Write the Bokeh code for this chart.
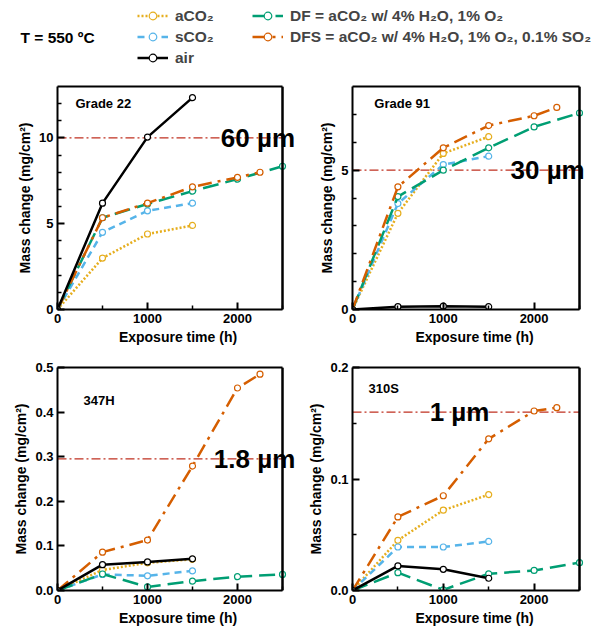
from bokeh.plotting import figure
from bokeh.models import (Range1d, FixedTicker, Label, Legend, LegendItem,
                          NumeralTickFormatter, LinearAxis)
from bokeh.core.properties import value
from bokeh.layouts import column, row
from bokeh.embed import file_html
from bokeh.resources import INLINE

# ---------------- data ----------------
hours_short = [0, 500, 1000, 1500]
hours_df = [0, 500, 1000, 1500, 2000, 2500]
hours_dfs = [0, 500, 1000, 1500, 2000, 2250]
x_span = [0, 2500]

# Grade 22
g22_aco2 = [0, 3.0, 4.4, 4.9]
g22_sco2 = [0, 4.5, 5.75, 6.2]
g22_air = [0, 6.2, 10.05, 12.35]
g22_df = [0, 5.35, 6.15, 6.9, 7.6, 8.35]
g22_dfs = [0, 5.35, 6.2, 7.15, 7.7, 8.0]

# Grade 91
g91_aco2 = [0, 3.45, 5.6, 6.2]
g91_sco2 = [0, 3.8, 5.2, 5.5]
g91_air = [0, 0.1, 0.12, 0.1]
g91_df = [0, 4.05, 5.0, 5.8, 6.55, 7.05]
g91_dfs = [0, 4.4, 5.8, 6.6, 6.95, 7.25]

# 347H
h347_aco2 = [0, 0.046, 0.062, 0.070]
h347_sco2 = [0, 0.036, 0.033, 0.044]
h347_air = [0, 0.058, 0.064, 0.071]
h347_df = [0, 0.037, 0.008, 0.021, 0.031, 0.036]
h347_dfs = [0, 0.086, 0.113, 0.279, 0.454, 0.485]

# 310S
s310_aco2 = [0, 0.045, 0.072, 0.086]
s310_sco2 = [0, 0.039, 0.039, 0.044]
s310_air = [0, 0.022, 0.019, 0.011]
s310_df = [0, 0.016, 0.0006, 0.015, 0.018, 0.025]
s310_dfs = [0, 0.066, 0.085, 0.136, 0.161, 0.164]

# thickness reference lines
limit_values = [10, 5, 0.295, 0.16]
limit_labels = ["60 µm", "30 µm", "1.8 µm", "1 µm"]
panel_names = ["Grade 22", "Grade 91", "347H", "310S"]

x_major = [0, 1000, 2000]
x_minor = [500, 1500, 2500]

# ---------------- styles ----------------
FONT = "Liberation Sans"
C_ACO2 = "#E6AE1E"
C_SCO2 = "#56B4E9"
C_DF = "#009E73"
C_DFS = "#D55E00"
C_AIR = "#000000"
C_LIM = "#C03020"

STY = {
    "aco2": dict(color=C_ACO2, dash="2 2"),
    "sco2": dict(color=C_SCO2, dash="7 5"),
    "df": dict(color=C_DF, dash="16 7"),
    "dfs": dict(color=C_DFS, dash="14 6 3 6"),
    "air": dict(color=C_AIR, dash="solid"),
}


def style_axis(ax):
    ax.axis_line_width = 2
    ax.major_tick_in = 7
    ax.major_tick_out = 0
    ax.minor_tick_in = 4
    ax.minor_tick_out = 0
    ax.major_tick_line_width = 2
    ax.minor_tick_line_width = 1.5
    ax.major_label_text_font = FONT
    ax.major_label_text_font_style = "bold"
    ax.major_label_text_font_size = "13px"
    ax.major_label_text_color = "black"
    ax.major_label_standoff = 4
    ax.axis_label_text_font = FONT
    ax.axis_label_text_font_style = "bold"
    ax.axis_label_text_font_size = "14px"
    ax.axis_label_text_color = "black"
    ax.axis_label_standoff = 3


def panel(bl, fw, xend, bt, bb, ymax, yticks, yminor, yfmt,
          aco2, sco2, air, df, dfs, limit, limit_label, lab_x, name, name_x, name_y):
    p = figure(frame_width=fw, frame_height=223, x_range=Range1d(0, xend), y_range=Range1d(0, ymax),
               output_backend="svg", toolbar_location=None,
               min_border_left=bl, min_border_right=1, min_border_top=bt, min_border_bottom=bb)
    p.xgrid.visible = False
    p.ygrid.visible = False
    p.outline_line_color = None
    style_axis(p.xaxis[0])
    style_axis(p.yaxis[0])
    p.xaxis.bounds = (x_span[0], x_span[1])
    p.xaxis.ticker = FixedTicker(ticks=x_major, minor_ticks=x_minor)
    p.yaxis.ticker = FixedTicker(ticks=yticks, minor_ticks=yminor)
    p.yaxis.formatter = NumeralTickFormatter(format=yfmt)
    p.xaxis.axis_label = "Exposure time (h)"
    p.yaxis.axis_label = "Mass change (mg/cm²)"

    top = LinearAxis(ticker=FixedTicker(ticks=[]), bounds=(x_span[0], x_span[1]),
                     axis_line_width=2, major_tick_in=0, major_tick_out=0,
                     minor_tick_in=0, minor_tick_out=0, major_label_text_font_size="0px")
    p.add_layout(top, "above")

    p.line(x_span, [limit, limit], line_color=C_LIM, line_width=1.2, line_dash="9 3 2 3")

    series = [("aco2", hours_short, aco2), ("sco2", hours_short, sco2),
              ("df", hours_df, df), ("dfs", hours_dfs, dfs), ("air", hours_short, air)]
    for key, xs, ys in series:
        st = STY[key]
        p.line(xs, ys, line_color=st["color"], line_width=2.5, line_dash=st["dash"])
        p.scatter(xs, ys, marker="circle", size=6, fill_color="white", line_color=st["color"],
                  line_width=1.2)

    p.text(x=[lab_x], y=[limit], text=[limit_label], text_font=value(FONT),
           text_font_style="bold", text_font_size=value("26px"), text_baseline="middle",
           text_color="black")
    p.text(x=[name_x], y=[name_y], text=[name], text_font=value(FONT),
           text_font_style="bold", text_font_size=value("13px"), text_baseline="middle",
           text_color="black")
    # right edge of the plotting box (drawn over the label, as in the original)
    p.rect(x=[x_span[1]], y=[ymax / 2], width=2, height=ymax, width_units="screen",
           fill_color="black", line_color=None)
    p.line([x_span[1], x_span[1]], [0, ymax], line_color="black", line_width=2)
    return p


# left panels: frame 57..298, data 0..2500 -> 57..282
XEND_L = 2500 * 241 / 225
# right panels: frame 353..597, data 0..2500 -> 353..580
XEND_R = 2500 * 244 / 227

p1 = panel(57, 241, XEND_L, 8, 42, 13, [0, 5, 10], [1, 2, 3, 4, 6, 7, 8, 9, 11, 12], "0",
           g22_aco2, g22_sco2, g22_air, g22_df, g22_dfs, limit_values[0], limit_labels[0], 1815,
           panel_names[0], 200, 12.0)
p2 = panel(53, 244, XEND_R, 8, 42, 8, [0, 5], [1, 2, 3, 4, 6, 7], "0",
           g91_aco2, g91_sco2, g91_air, g91_df, g91_dfs, limit_values[1], limit_labels[1], 1740,
           panel_names[1], 240, 7.38)
p3 = panel(57, 241, XEND_L, 16, 40, 0.5, [0, 0.1, 0.2, 0.3, 0.4, 0.5], [], "0.0",
           h347_aco2, h347_sco2, h347_air, h347_df, h347_dfs, limit_values[2], limit_labels[2], 1737,
           panel_names[2], 290, 0.425)
p4 = panel(53, 244, XEND_R, 16, 40, 0.2, [0, 0.1, 0.2], [0.05, 0.15], "0.0",
           s310_aco2, s310_sco2, s310_air, s310_df, s310_dfs, limit_values[3], limit_labels[3], 850,
           panel_names[3], 177, 0.181)

# ---------------- legend strip ----------------
lf = figure(width=598, height=78, x_range=Range1d(0, 1), y_range=Range1d(0, 1),
            output_backend="svg", toolbar_location=None, min_border=0,
            x_axis_location=None, y_axis_location=None, outline_line_color=None)
lf.grid.visible = False

leg_keys = ["aco2", "sco2", "air", "df", "dfs"]
leg_labels = ["aCO₂", "sCO₂", "air", "DF = aCO₂ w/ 4% H₂O, 1% O₂",
              "DFS = aCO₂ w/ 4% H₂O, 1% O₂, 0.1% SO₂"]
items = []
for key, lab in zip(leg_keys, leg_labels):
    st = STY[key]
    lr = lf.line(x=[-5, -4], y=[-5, -5], line_color=st["color"], line_width=2.5, line_dash=st["dash"])
    sr = lf.scatter(x=[-5], y=[-5], marker="circle", size=10, fill_color="white",
                    line_color=st["color"], line_width=1.2)
    items.append(LegendItem(label=lab, renderers=[lr, sr]))

leg_common = dict(label_text_font=FONT, label_text_font_style="bold", label_text_font_size="15.5px",
                  glyph_width=31, glyph_height=19, spacing=2, padding=0,
                  margin=0, border_line_color=None, background_fill_alpha=0)
leg1 = Legend(items=items[:3], location=(137, 11), label_standoff=7, **leg_common)
leg2 = Legend(items=items[3:], location=(252, 32), label_standoff=7, **leg_common)
lf.add_layout(leg1)
lf.add_layout(leg2)
lf.add_layout(Label(x=20, y=41, x_units="screen", y_units="screen", text="T = 550 ºC",
                    text_font=FONT, text_font_style="bold", text_font_size="15.5px",
                    text_baseline="middle", text_color="black"))

layout = column(lf, row(p1, p2), row(p3, p4))
open("out.html", "w").write(file_html(layout, INLINE))
